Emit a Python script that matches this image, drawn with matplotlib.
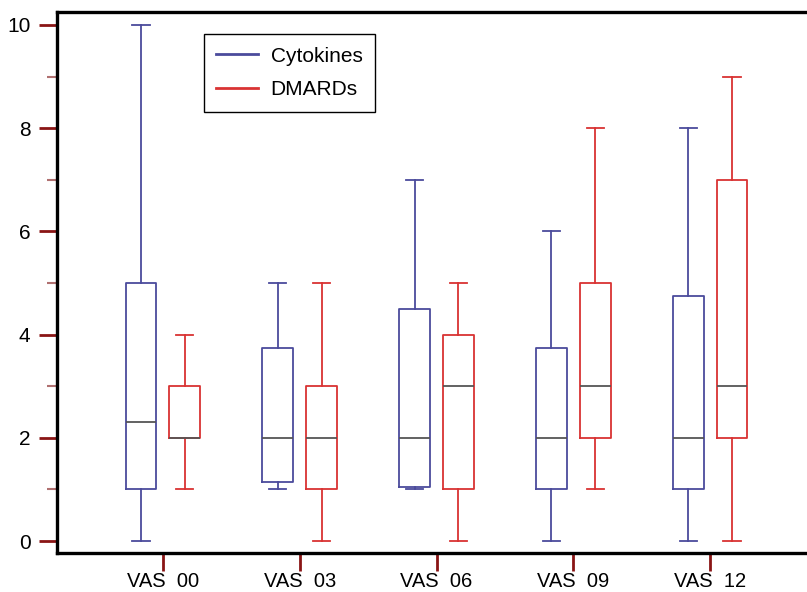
import matplotlib
matplotlib.use('Agg')
from matplotlib import pyplot as plt
from matplotlib.lines import Line2D

plt.rcParams['font.family'] = ['Liberation Sans', 'DejaVu Sans']

# data
labels = ['VAS  00', 'VAS  03', 'VAS  06', 'VAS  09', 'VAS  12']

cyto_low = [0, 1, 1, 0, 0]
cyto_q1 = [1, 1.15, 1.05, 1, 1]
cyto_med = [2.3, 2, 2, 2, 2]
cyto_q3 = [5, 3.75, 4.5, 3.75, 4.75]
cyto_high = [10, 5, 7, 6, 8]

dmard_low = [1, 0, 0, 1, 0]
dmard_q1 = [2, 1, 1, 2, 2]
dmard_med = [2, 2, 3, 3, 3]
dmard_q3 = [3, 3, 4, 5, 7]
dmard_high = [4, 5, 5, 8, 9]

blue = '#4b4b9c'
red = '#d93333'
tick_red = '#8a1515'


def make_stats(low, q1, med, q3, high):
    return [dict(whislo=a, q1=b, med=c, q3=d, whishi=e, fliers=[])
            for a, b, c, d, e in zip(low, q1, med, q3, high)]


fig = plt.figure(figsize=(8.07, 5.92), dpi=100)
ax = fig.add_axes([0.0706, 0.0659, 0.9294, 0.9138])

pos = list(range(len(labels)))
off = 0.16
w = 0.226

for stats, shift, col in [(make_stats(cyto_low, cyto_q1, cyto_med, cyto_q3, cyto_high), -off, blue),
                          (make_stats(dmard_low, dmard_q1, dmard_med, dmard_q3, dmard_high), off, red)]:
    ax.bxp(stats, positions=[p + shift for p in pos], widths=w,
           showfliers=False, capwidths=0.125, manage_ticks=False,
           boxprops=dict(color=col, lw=1.3),
           whiskerprops=dict(color=col, lw=1.3),
           capprops=dict(color=col, lw=1.3),
           medianprops=dict(color='#555555', lw=1.3))

ax.set_xlim(-0.774, 4.708)
ax.set_ylim(-0.23, 10.25)

ax.set_xticks(pos)
ax.set_xticklabels(labels, fontsize=14.5)
ax.set_yticks([0, 2, 4, 6, 8, 10])
ax.set_yticks([1, 3, 5, 7, 9], minor=True)
ax.tick_params(axis='y', which='major', labelsize=15, length=13, width=2,
               color=tick_red, pad=6)
ax.tick_params(axis='y', which='minor', length=7, width=1.5, color='#b07070')
ax.tick_params(axis='x', which='major', length=13, width=2, color=tick_red, pad=1)

for s in ['left', 'bottom', 'top']:
    ax.spines[s].set_linewidth(2.4)
    ax.spines[s].set_color('black')
ax.spines['right'].set_visible(False)

handles = [Line2D([0], [0], color=blue, lw=2), Line2D([0], [0], color=red, lw=2)]
leg = ax.legend(handles, ['Cytokines', 'DMARDs'], loc='upper left',
                bbox_to_anchor=(0.196, 0.959), borderaxespad=0, fontsize=15,
                fancybox=False, framealpha=1, edgecolor='black',
                handlelength=2.0, handletextpad=0.6, borderpad=0.6,
                labelspacing=0.7)
leg.get_frame().set_linewidth(1.0)

fig.savefig('out.png', dpi=100)
